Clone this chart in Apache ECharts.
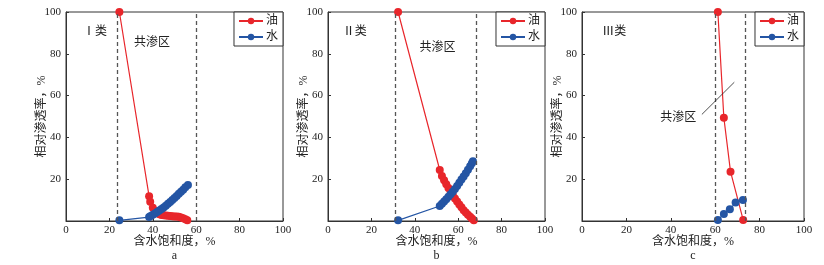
<!DOCTYPE html>
<html>
<head>
<meta charset="utf-8">
<script src="https://cdn.jsdelivr.net/npm/echarts@6/dist/echarts.min.js"></script>
<style>
    html, body { margin: 0; padding: 0; background: #fff; }
    #relPermChart { width: 824px; height: 265px; }
</style>
</head>
<body>
<div id="relPermChart"></div>
<script>
// 相对渗透率曲线数据 [含水饱和度 %, 相对渗透率 %]
const oilA = [[24.6, 100], [38.3, 11.8], [38.8, 9.2], [40, 6.3], [41, 4.8], [42, 3.8], [43, 3.2],
    [44, 2.9], [45, 2.7], [46, 2.6], [47, 2.5], [48, 2.4], [49, 2.3], [50, 2.2], [51, 2.1],
    [52, 2.0], [53, 1.7], [54, 1.3], [55, 0.8], [55.9, 0.3]];
const waterA = [[24.6, 0.3], [38.3, 1.9], [39, 2.4], [40, 3.0], [41, 3.6], [42, 4.3], [43, 5.0],
    [44, 5.7], [45, 6.5], [46, 7.3], [47, 8.2], [48, 9.1], [49, 10.0], [50, 11.0], [51, 12.0],
    [52, 13.0], [53, 14.0], [54, 15.0], [55, 16.1], [56.2, 17.2]];
const oilB = [[32.3, 100], [51.5, 24.4], [52.5, 21.5], [53.5, 19.5], [54.5, 17.6], [55.5, 15.8],
    [56.5, 14.2], [57.5, 12.4], [58.5, 10.8], [59.5, 9.3], [60.5, 7.9], [61.5, 6.6], [62.5, 5.2],
    [63.5, 4.1], [64.5, 3.0], [65.5, 2.0], [66.3, 1.2], [67.2, 0.3]];
const waterB = [[32.3, 0.3], [51.5, 7.2], [52.5, 8.2], [53.5, 9.3], [54.5, 10.4], [55.5, 11.6],
    [56.5, 12.8], [57.5, 14.0], [58.5, 15.3], [59.5, 16.8], [60.5, 18.3], [61.5, 19.8],
    [62.5, 21.3], [63.5, 22.9], [64.5, 24.5], [65.5, 26.2], [66.3, 27.6], [66.8, 28.6]];
const oilC = [[61.2, 100], [63.9, 49.4], [66.9, 23.6], [72.6, 0.5]];
const waterC = [[61.2, 0.5], [63.9, 3.3], [66.6, 5.6], [69.2, 8.8], [72.5, 10.0]];

const panelTypes = ['Ⅰ类', 'Ⅱ类', 'Ⅲ类'];
const panelLetters = ['a', 'b', 'c'];
const coFlowBounds = [[23.4, 60], [31.2, 68.1], [60.2, 73.7]];
const typeLabelPos = [[13.4, 90.4], [12.3, 90.4], [14.5, 90.4]];
const coFlowLabelPos = [[39.6, 85.2], [50.5, 82.8], [43.3, 49.3]];
const leaderLineC = [[54, 51], [68.6, 66.4]];

window.onload = () => {
    new RelPermChart().main();
};

class RelPermChart {
    chart;

    main() {
        this.chart = echarts.init(document.getElementById('relPermChart'));
        this.chart.setOption(this.buildOption());
    }

    buildOption() {
        const RED = '#e8262b';
        const BLUE = '#2455a4';
        const SERIF = "'Liberation Serif', 'Noto Sans CJK SC', serif";
        const TEXT = '#222';
        const lefts = [66, 328, 582];
        const widths = [217, 217, 222];
        const oils = [oilA, oilB, oilC];
        const waters = [waterA, waterB, waterC];

        let grids = [], xAxes = [], yAxes = [], series = [], legends = [], graphics = [];

        for (let i = 0; i < 3; i++) {
            grids.push({
                left: lefts[i], top: 12, width: widths[i], height: 209,
                show: true, borderColor: '#333', borderWidth: 1
            });
            xAxes.push({
                type: 'value', gridIndex: i, min: 0, max: 100, interval: 20,
                name: '含水饱和度，%', nameLocation: 'middle', nameGap: 15,
                nameMoveOverlap: false,
                nameTextStyle: {fontSize: 12, color: TEXT, fontFamily: SERIF},
                axisLine: {lineStyle: {color: '#333'}},
                axisTick: {inside: true, length: 3, lineStyle: {color: '#333'}},
                axisLabel: {fontSize: 11, color: TEXT, fontFamily: SERIF, margin: 4},
                splitLine: {show: false}
            });
            yAxes.push({
                type: 'value', gridIndex: i, min: 0, max: 100, interval: 20,
                name: '相对渗透率，%', nameLocation: 'middle', nameGap: 18,
                nameMoveOverlap: false,
                nameTextStyle: {fontSize: 12, color: TEXT, fontFamily: SERIF},
                axisLine: {lineStyle: {color: '#333'}},
                axisTick: {inside: true, length: 3, lineStyle: {color: '#333'}},
                axisLabel: {
                    fontSize: 11, color: TEXT, fontFamily: SERIF, margin: 5,
                    formatter: v => v === 0 ? '' : v
                },
                splitLine: {show: false}
            });

            let oilSeries = {
                name: '油', type: 'line', xAxisIndex: i, yAxisIndex: i,
                data: oils[i], symbol: 'circle', symbolSize: 8,
                itemStyle: {color: RED}, lineStyle: {color: RED, width: 1.2},
                markLine: {
                    silent: true, symbol: ['none', 'none'], label: {show: false},
                    lineStyle: {type: [4, 3], color: '#555', width: 1.3},
                    data: coFlowBounds[i].map(v => ({xAxis: v}))
                },
                markPoint: {
                    silent: true, symbol: 'circle', symbolSize: 0,
                    label: {
                        show: true, position: 'inside', formatter: '{b}',
                        fontSize: 12, color: TEXT, fontFamily: SERIF
                    },
                    data: [
                        {name: panelTypes[i], coord: typeLabelPos[i]},
                        {name: '共渗区', coord: coFlowLabelPos[i]}
                    ]
                }
            };
            let waterSeries = {
                name: '水', type: 'line', xAxisIndex: i, yAxisIndex: i,
                data: waters[i], symbol: 'circle', symbolSize: 8,
                itemStyle: {color: BLUE}, lineStyle: {color: BLUE, width: 1.2}
            };
            if (i === 2) {
                waterSeries.markLine = {
                    silent: true, symbol: ['none', 'none'], label: {show: false},
                    lineStyle: {type: 'solid', color: '#222', width: 0.8},
                    data: [[{coord: leaderLineC[0]}, {coord: leaderLineC[1]}]]
                };
            }
            series.push(oilSeries, waterSeries);

            legends.push({
                orient: 'vertical', right: 824 - lefts[i] - widths[i], top: 12,
                data: ['油', '水'], itemWidth: 24, itemHeight: 8, itemGap: 4,
                padding: [3, 5, 3, 4], borderColor: '#333', borderWidth: 1,
                backgroundColor: '#fff', selectedMode: false,
                textStyle: {fontSize: 12, color: TEXT, fontFamily: SERIF, padding: [0, 0, 0, -2]}
            });

            graphics.push({
                type: 'text', x: lefts[i] + widths[i] / 2, y: 256,
                style: {
                    text: panelLetters[i], fill: TEXT, font: "12px 'Liberation Serif'",
                    textAlign: 'center', textVerticalAlign: 'middle'
                }
            });
        }

        return {
            animation: false,
            backgroundColor: '#fff',
            grid: grids,
            xAxis: xAxes,
            yAxis: yAxes,
            legend: legends,
            graphic: graphics,
            series: series
        };
    }
}
</script>
</body>
</html>
